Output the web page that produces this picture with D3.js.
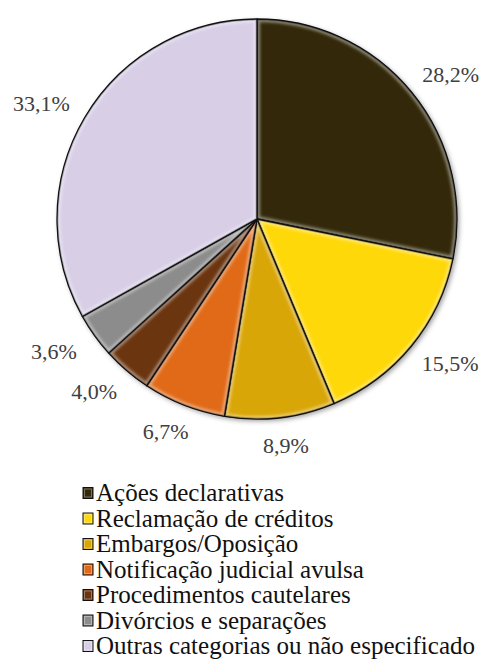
<!DOCTYPE html>
<html>
<head>
<meta charset="utf-8">
<script src="https://cdn.jsdelivr.net/npm/d3@7"></script>
<style>
  body { margin: 0; background: #fff; }
  svg { display: block; }
  svg text { font-family: "Liberation Serif", "Times New Roman", "DejaVu Serif", serif; }
</style>
</head>
<body>
<div id="chart"></div>
<script>
// Chart data
var categories = [
    "Ações declarativas",
    "Reclamação de créditos",
    "Embargos/Oposição",
    "Notificação judicial avulsa",
    "Procedimentos cautelares",
    "Divórcios e separações",
    "Outras categorias ou não especificado"
];
var values = [28.2, 15.5, 8.9, 6.7, 4.0, 3.6, 33.1];
var colors = ["#33290a", "#ffd80a", "#d9a608", "#e06a18", "#6b3510", "#8c8c8c", "#d8cfe7"];

// Size of svg
var svgWidth = 485;
var svgHeight = 662;

var cx = 257, cy = 219, radius = 200;

var svg = d3.select("#chart")
    .append("svg")
    .attr("width", svgWidth)
    .attr("height", svgHeight);

var defs = svg.append("defs");

// soft blur for the inner bevel highlight
defs.append("filter")
    .attr("id", "soft")
    .append("feGaussianBlur")
    .attr("stdDeviation", 1.6);

// shadow under the pie
var shadow = defs.append("filter")
    .attr("id", "shadow")
    .attr("x", "-10%").attr("y", "-10%")
    .attr("width", "125%").attr("height", "125%");
shadow.append("feDropShadow")
    .attr("dx", 2).attr("dy", 2)
    .attr("stdDeviation", 2.5)
    .attr("flood-color", "#000")
    .attr("flood-opacity", 0.4);

var color = d3.scaleOrdinal()
    .domain(categories)
    .range(colors);

var pie = d3.pie()
    .sort(null)
    .value(d => d.value);

var data = categories.map((c, i) => ({ name: c, value: values[i] }));
var arcs = pie(data);

var arc = d3.arc()
    .innerRadius(0)
    .outerRadius(radius);

var pieGroup = svg.append("g")
    .attr("transform", `translate(${cx}, ${cy})`);

pieGroup.append("circle")
    .attr("r", radius)
    .attr("fill", "#000")
    .attr("filter", "url(#shadow)");

// clip paths for each slice (used for the bevel)
defs.selectAll("clipPath.sl")
    .data(arcs)
    .enter()
    .append("clipPath")
    .attr("class", "sl")
    .attr("id", (d, i) => "clip" + i)
    .append("path")
    .attr("d", arc);

var slices = pieGroup.selectAll("g.slice")
    .data(arcs)
    .enter()
    .append("g")
    .attr("class", "slice");

slices.append("path")
    .attr("d", arc)
    .attr("fill", d => color(d.data.name));

// inner highlight along the edges
slices.append("path")
    .attr("d", arc)
    .attr("fill", "none")
    .attr("stroke", "#fff")
    .attr("stroke-opacity", 0.45)
    .attr("stroke-width", 6)
    .attr("clip-path", (d, i) => `url(#clip${i})`)
    .attr("filter", "url(#soft)");

// darker inner rim
slices.append("path")
    .attr("d", arc)
    .attr("fill", "none")
    .attr("stroke", "#000")
    .attr("stroke-opacity", 0.25)
    .attr("stroke-width", 3)
    .attr("clip-path", (d, i) => `url(#clip${i})`);

slices.append("path")
    .attr("d", arc)
    .attr("fill", "none")
    .attr("stroke", "#111")
    .attr("stroke-width", 1.3)
    .attr("stroke-linejoin", "round");

// Percentage labels outside the pie
var ptFormat = d3.formatLocale({ decimal: ",", thousands: ".", grouping: [3], currency: ["", ""] }).format(".1f");
var labelRx = 250, labelRy = 228;

pieGroup.selectAll("text.pct")
    .data(arcs)
    .enter()
    .append("text")
    .attr("class", "pct")
    .attr("x", d => labelRx * Math.sin((d.startAngle + d.endAngle) / 2))
    .attr("y", d => -labelRy * Math.cos((d.startAngle + d.endAngle) / 2))
    .attr("dy", "0.33em")
    .attr("text-anchor", "middle")
    .attr("font-size", "22px")
    .attr("fill", "#404040")
    .text(d => ptFormat(d.data.value) + "%");

// Legend
var legendX = 83, legendY = 493, legendStep = 25.5;

var legend = svg.append("g")
    .attr("transform", `translate(${legendX}, ${legendY})`);

var items = legend.selectAll("g.item")
    .data(categories)
    .enter()
    .append("g")
    .attr("class", "item")
    .attr("transform", (d, i) => `translate(0, ${i * legendStep})`);

items.append("rect")
    .attr("x", 0)
    .attr("y", -5.5)
    .attr("width", 10)
    .attr("height", 11)
    .attr("fill", d => color(d))
    .attr("stroke", "#111")
    .attr("stroke-width", 1);

items.append("rect")
    .attr("x", 1.5)
    .attr("y", -4)
    .attr("width", 7)
    .attr("height", 8)
    .attr("fill", "none")
    .attr("stroke", "#fff")
    .attr("stroke-opacity", 0.35)
    .attr("stroke-width", 1);

items.append("text")
    .attr("x", 13)
    .attr("y", 0)
    .attr("dy", "0.33em")
    .attr("font-size", "25px")
    .attr("fill", "#111")
    .text(d => d);
</script>
</body>
</html>
